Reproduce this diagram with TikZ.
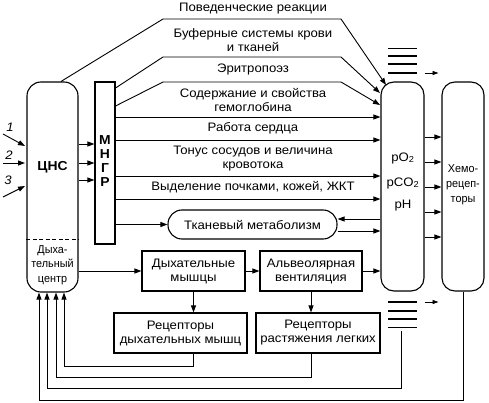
\documentclass[tikz,border=0pt]{standalone}
\usepackage{fontspec}
\setmainfont[FakeStretch=1.07]{Liberation Sans}
\newfontfamily\narrowfont[FakeStretch=0.95]{Liberation Sans}
\usetikzlibrary{arrows.meta}
\tikzset{every picture/.style={x=1pt,y=-1pt},
	>={Triangle[length=7pt,width=5pt]}, every edge/.style={draw,->}}
\tikzstyle{pill}=[rectangle,draw=black,rounded corners=14pt,line width=1.1pt,inner sep=0pt]
\tikzstyle{block}=[rectangle,draw=black,line width=1.1pt,align=center,inner sep=0pt]
\tikzstyle{lbl}=[align=center,inner sep=0pt]
\tikzstyle{small}=[align=center,inner sep=0pt,font=\narrowfont\fontsize{11.4}{15}\selectfont]

\begin{document}
\begin{tikzpicture}[font=\fontsize{12.3}{14}\selectfont, line width=0.9pt]
	\useasboundingbox (0,0) rectangle (489,403);
	% main columns
	\node at (52.5,187) [pill,minimum width=51pt,minimum height=210pt] (cns) {};
	\node at (52.5,167) [lbl,font=\fontsize{13}{14}\selectfont\bfseries] (cnsname) {ЦНС};
	\node at (52.5,265) [small,font=\narrowfont\fontsize{11.4}{14.5}\selectfont] (center) {Дыха-\\тельный\\центр};
	\draw[dashed,dash pattern=on 4pt off 2.5pt] (cns.west |- 0,239) -- (cns.east |- 0,239);
	\node at (105,163) [block,minimum width=20pt,minimum height=162pt] (mngr) {};
	\node at (105,161) [lbl,font=\fontsize{13}{14}\selectfont\bfseries] (mngrname) {М\\Н\\Г\\Р};
	\node at (402.5,186.5) [pill,rounded corners=13pt,minimum width=43pt,minimum height=209pt] (gas) {};
	\node at (403,158) [lbl] (po2) {pO\textsubscript{2}};
	\node at (403,183) [lbl] (pco2) {pCO\textsubscript{2}};
	\node at (403,206) [lbl] (ph) {pH};
	\node at (463,186.5) [pill,rounded corners=13pt,minimum width=42pt,minimum height=209pt] (chemo) {};
	\node at (463,185) [small] (chemoname) {Хемо-\\рецеп-\\торы};

	% inputs 1, 2, 3
	\coordinate (in1) at (3,134);
	\coordinate (in2) at (3,163);
	\coordinate (in3) at (3,197);
	\draw[->] (in1) -- (25,146);
	\draw[->] (in2) -- (25,163);
	\draw[->] (in3) -- (25,186);
	\node at (10,127) [lbl] (n1) {\textit{1}};
	\node at (9,155) [lbl] (n2) {\textit{2}};
	\node at (8,180) [lbl] (n3) {\textit{3}};
	\foreach \y in {144,163,180}
		\draw[->] (cns.east |- 0,\y) -- (mngr.west |- 0,\y);

	% effector lines
	\node at (253,9) [lbl] (t1) {Поведенческие реакции};
	\node at (253,40) [lbl] (t2) {Буферные системы крови\\и тканей};
	\node at (253,69) [lbl] (t3) {Эритропоэз};
	\node at (253,100) [lbl] (t4) {Содержание и свойства\\гемоглобина};
	\node at (253,128) [lbl] (t5) {Работа сердца};
	\node at (253,159) [lbl] (t6) {Тонус сосудов и величина\\кровотока};
	\node at (253,187) [lbl] (t7) {Выделение почками, кожей, ЖКТ};
	\draw[->] ([xshift=8.5pt]cns.north) -- (163,19) -- (341,19) -- (386,85);
	\draw[->] (mngr.east |- 0,88) -- (163,57) -- (341,57) -- (380,93);
	\draw[->] (mngr.east |- 0,106) -- (163,82) -- (341,82) -- (380,105);
	\foreach \y in {117,140,176,199}
		\draw[->] (mngr.east |- 0,\y) -- (gas.west |- 0,\y);

	% tissue metabolism
	\node at (252.5,224.5) [pill,minimum width=169pt,minimum height=29pt] (tissue) {Тканевый метаболизм};
	\draw[->] (mngr.east |- tissue) -- (tissue.west);
	\draw[->] (gas.west |- 0,219) -- ([yshift=5.5pt]tissue.east);
	\draw[->] ([yshift=-6.5pt]tissue.east) -- ([yshift=-6.5pt]tissue.east -| gas.west);
	\foreach \y in {137,162,187,212,237}
		\draw[->] (gas.east |- 0,\y) -- (chemo.west |- 0,\y);

	% respiration chain
	\node at (193.5,271) [block,minimum width=103pt,minimum height=40pt] (muscles) {Дыхательные\\мышцы};
	\node at (311,271) [block,minimum width=102pt,minimum height=40pt] (alv) {Альвеолярная\\вентиляция};
	\node at (180.5,333) [block,minimum width=133pt,minimum height=40pt] (rmus) {Рецепторы\\дыхательных мышц};
	\node at (318,333) [block,minimum width=124pt,minimum height=40pt] (rlung) {Рецепторы\\растяжения легких};
	\draw[->] (cns.east |- muscles) -- (muscles.west);
	\draw[->] (muscles) -- (alv);
	\draw[->] (alv.east) -- (alv.east -| gas.west);
	\draw[->] (muscles.south) -- (muscles.south |- rmus.north);
	\draw[->] (alv.south) -- (alv.south |- rlung.north);

	% gas levels
	\coordinate (up) at (402.5,73);
	\coordinate (down) at (402.5,302);
	\draw[line width=0.6pt] (388,48) -- (417,48);
	\draw[line width=1.3pt] (388,56) -- (417,56);
	\draw[line width=2pt] (388,64) -- (417,64);
	\draw[line width=2.8pt] (388,73) -- (417,73);
	\draw[line width=2.8pt] (388,302) -- (417,302);
	\draw[line width=2pt] (388,311) -- (417,311);
	\draw[line width=1.3pt] (388,319) -- (417,319);
	\draw[line width=0.6pt] (388,327) -- (417,327);
	\draw[->,>={Triangle[length=6pt,width=4pt]}] ([xshift=22pt]up) -- ([xshift=36pt]up);
	\draw[->,>={Triangle[length=6pt,width=4pt]}] ([xshift=22pt]down) -- ([xshift=36pt]down);

	% feedback to respiratory centre
	\draw[->] (muscles.south |- rmus.south) -- ++(0,13) -| ([xshift=11.5pt]cns.south);
	\draw[->] (alv.south |- rlung.south) -- ++(0,24) -| ([xshift=3.5pt]cns.south);
	\draw[->] (401,331) -- (401,388) -| ([xshift=-5.5pt]cns.south);
	\draw[->] (chemo.south) -- ++(0,109) -| ([xshift=-13.5pt]cns.south);
\end{tikzpicture}
\end{document}
